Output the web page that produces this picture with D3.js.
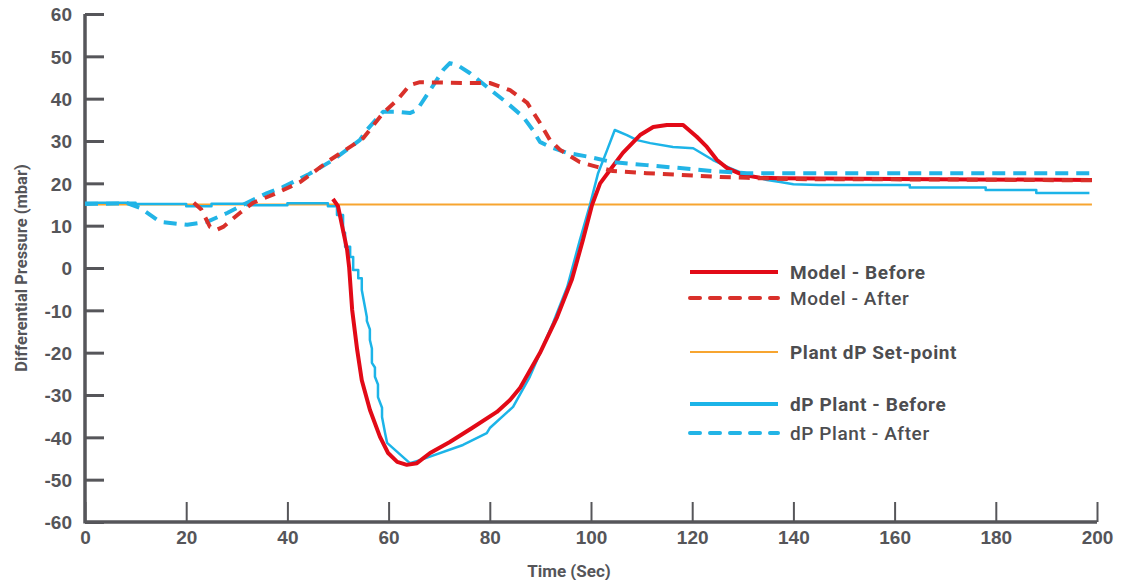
<!DOCTYPE html>
<html>
<head>
<meta charset="utf-8">
<script src="https://cdn.jsdelivr.net/npm/d3@7"></script>
<style>
  html, body { margin: 0; padding: 0; background: #fff; }
  svg { display: block; font-family: Roboto, "Noto Sans", sans-serif; }
  .tick text { fill: #555559; font-weight: 700; font-size: 19px; }
</style>
</head>
<body>
<svg id="chart" width="1123" height="580"></svg>
<script>
// time (s) / value (mbar) pairs
const modelBeforeT = [49, 50, 51.8, 52.2, 52.8, 53.8, 54.7, 56.3, 58.3, 59.9, 61.7, 63.6, 65.6, 68.2, 72.1, 76.5, 81.4, 84, 86, 89.9, 93.3, 96.2, 98.4, 100.2, 101.8, 103.8, 106.3, 109.7, 112.3, 115, 118.2, 120.9, 122.9, 124.9, 126.9, 130, 133.4, 137.4, 160, 199]
const modelBeforeV = [16.3, 14.6, 4.3, 0.2, -9.9, -19.4, -26.5, -33.5, -39.9, -43.7, -45.8, -46.5, -46.1, -43.7, -41.1, -37.8, -34, -31.2, -28.3, -20.1, -11.6, -2.8, 6.6, 14.9, 20, 23.2, 27.2, 31.4, 33.3, 33.8, 33.8, 31, 28.6, 25.5, 23.6, 22, 21.3, 21.2, 21, 20.8]

const modelAfterT = [21.5, 23, 24.7, 26, 27.3, 30.6, 33.2, 37.9, 42.5, 48.4, 52.4, 55, 58.9, 61.7, 64.2, 66.2, 74.7, 80, 84, 87.4, 89.9, 91.9, 93.9, 97.8, 101.2, 104.3, 111, 117.6, 125.5, 130.8, 140, 170, 199]
const modelAfterV = [15.4, 13.8, 9.7, 9, 9.7, 13, 15.4, 17.7, 20.3, 25.5, 28.6, 30.7, 36.6, 39.7, 43.2, 43.9, 43.7, 43.7, 42, 39, 34.3, 30.2, 27.9, 25, 23.9, 22.9, 22.4, 22, 21.5, 21.3, 21, 20.9, 20.7]

const setPointT = [0, 199]
const setPointV = [15, 15]

const plantBeforeT = [0, 10, 10, 20, 20, 25, 25, 32, 32, 40, 40, 48, 48, 49.8, 49.8, 51, 51, 51.4, 51.4, 52.4, 52.4, 53, 53, 54, 54, 54.7, 54.7, 55.7, 55.7, 56.3, 56.3, 56.7, 56.7, 57.3, 57.3, 57.9, 57.9, 58.7, 58.7, 59.3, 59.7, 64.2, 66.2, 74.7, 79.4, 80, 84.6, 87.9, 92.5, 95.3, 97.8, 99.8, 101.4, 103.2, 104.7, 107.1, 109.1, 111.7, 116.2, 120.2, 124.1, 127.5, 130.8, 134.8, 137.4, 140, 145, 163, 163, 178, 178, 188, 188, 198.5]
const plantBeforeV = [15.4, 15.4, 15.1, 15.1, 14.6, 14.6, 15.2, 15.2, 14.8, 14.8, 15.3, 15.3, 14.6, 14.6, 12.5, 12.5, 8.3, 8.3, 5, 5, 2.6, 2.6, -0.5, -0.5, -2.4, -2.4, -5.2, -11.6, -12.5, -14.5, -17, -19, -22.4, -23.5, -25.7, -27.5, -30.5, -33, -35.2, -39, -41.3, -46.1, -45.4, -41.8, -39, -37.8, -32.8, -25.7, -13, -4.5, 6.6, 14.9, 22.4, 27.9, 32.6, 31.4, 30.2, 29.5, 28.6, 28.3, 25.5, 23.6, 22, 20.8, 20.3, 19.8, 19.6, 19.6, 19, 19, 18.4, 18.4, 17.7, 17.7]

const plantAfterT = [0, 8.3, 10.9, 14.8, 20.2, 24.1, 28.1, 31.2, 36, 39.1, 44, 49, 54.3, 55.7, 58.9, 61.7, 64.2, 65.6, 68.2, 70.8, 72.1, 73.5, 76.1, 79.4, 83.4, 86.6, 88.5, 89.9, 91.9, 95.3, 99.8, 104.3, 111, 117.6, 124.1, 130.8, 150, 199]
const plantAfterV = [15.1, 15.3, 14.2, 10.9, 10.2, 10.9, 13, 14.9, 17.7, 19.1, 22, 25.5, 30.2, 32.6, 36.9, 36.9, 36.6, 37.3, 42, 46.8, 48.4, 48, 46, 42.8, 39, 35.7, 32.6, 29.8, 28.6, 27.2, 26.2, 25, 24.3, 23.6, 22.9, 22.4, 22.4, 22.4]

const xTicks = [0, 20, 40, 60, 80, 100, 120, 140, 160, 180, 200]
const yTicks = [60, 50, 40, 30, 20, 10, 0, -10, -20, -30, -40, -50, -60]

const series = [
  { name: 'Model - Before', t: modelBeforeT, v: modelBeforeV, color: '#e20a17', width: 4, dash: null, weight: 700, ly: 272 },
  { name: 'Model - After', t: modelAfterT, v: modelAfterV, color: '#d9302a', width: 4, dash: '11,8', weight: 500, ly: 298 },
  { name: 'Plant dP Set-point', t: setPointT, v: setPointV, color: '#f7a530', width: 2, dash: null, weight: 700, ly: 352 },
  { name: 'dP Plant - Before', t: plantBeforeT, v: plantBeforeV, color: '#1cb4e8', width: 2.5, dash: null, weight: 700, ly: 404 },
  { name: 'dP Plant - After', t: plantAfterT, v: plantAfterV, color: '#22b4e6', width: 4, dash: '13,8', weight: 500, ly: 433 }
]

const svg = d3.select('#chart')
const margin = { left: 85, right: 26, top: 14, bottom: 58 }
const width = 1123 - margin.left - margin.right
const height = 580 - margin.top - margin.bottom

const x = d3.scaleLinear().domain([0, 200]).range([margin.left, margin.left + width])
const y = d3.scaleLinear().domain([-60, 60]).range([margin.top + height, margin.top])

const axisColor = '#56565a'

// y axis, ticks point inward
const yAxis = svg.append('g')
  .attr('transform', `translate(${margin.left},0)`)
  .call(d3.axisRight(y).tickValues(yTicks).tickSize(19).tickFormat((d) => String(d)))
yAxis.select('.domain').remove()
yAxis.selectAll('.tick line').attr('stroke', axisColor).attr('stroke-width', 3)
yAxis.selectAll('.tick text').attr('x', -13).attr('text-anchor', 'end').attr('dy', '0.36em')

// x axis, ticks point up
const xAxis = svg.append('g')
  .attr('transform', `translate(0,${margin.top + height})`)
  .call(d3.axisTop(x).tickValues(xTicks).tickSize(20))
xAxis.select('.domain').remove()
xAxis.selectAll('.tick line').attr('stroke', axisColor).attr('stroke-width', 2)
xAxis.selectAll('.tick text').attr('y', 9).attr('dy', '0.71em')

svg.append('line')
  .attr('x1', margin.left).attr('x2', margin.left)
  .attr('y1', margin.top).attr('y2', margin.top + height + 1.5)
  .attr('stroke', axisColor).attr('stroke-width', 3.5)
svg.append('line')
  .attr('x1', margin.left).attr('x2', margin.left + width)
  .attr('y1', margin.top + height).attr('y2', margin.top + height)
  .attr('stroke', axisColor).attr('stroke-width', 3.5)

// axis titles
svg.append('text')
  .attr('transform', `translate(27,${y(0)}) rotate(-90)`)
  .attr('text-anchor', 'middle')
  .attr('fill', '#555559')
  .style('font-size', '16.5px').style('font-weight', 700)
  .text('Differential Pressure (mbar)')
svg.append('text')
  .attr('x', x(100) - 22).attr('y', 577)
  .attr('text-anchor', 'middle')
  .attr('fill', '#555559')
  .style('font-size', '17px').style('font-weight', 700)
  .text('Time (Sec)')

// lines
const line = d3.line().x((d) => x(d[0])).y((d) => y(d[1]))
const drawOrder = [2, 3, 0, 4, 1]
drawOrder.forEach((i) => {
  const s = series[i]
  svg.append('path')
    .datum(s.t.map((t, k) => [t, s.v[k]]))
    .attr('fill', 'none')
    .attr('stroke', s.color)
    .attr('stroke-width', s.width)
    .attr('stroke-dasharray', s.dash)
    .attr('stroke-linejoin', 'round')
    .attr('d', line)
})

// legend
const legend = svg.append('g')
series.forEach((s) => {
  legend.append('line')
    .attr('x1', 690).attr('x2', 778)
    .attr('y1', s.ly).attr('y2', s.ly)
    .attr('stroke', s.color)
    .attr('stroke-width', s.width === 2.5 ? 4 : s.width)
    .attr('stroke-dasharray', s.dash ? '10,10' : null)
    .attr('stroke-linecap', s.dash ? 'round' : 'butt')
  legend.append('text')
    .attr('x', 790).attr('y', s.ly).attr('dy', '0.35em')
    .attr('fill', '#4d4d50')
    .style('font-size', '19px').style('font-weight', s.weight)
    .style('letter-spacing', '0.6px')
    .text(s.name)
})
</script>
</body>
</html>
